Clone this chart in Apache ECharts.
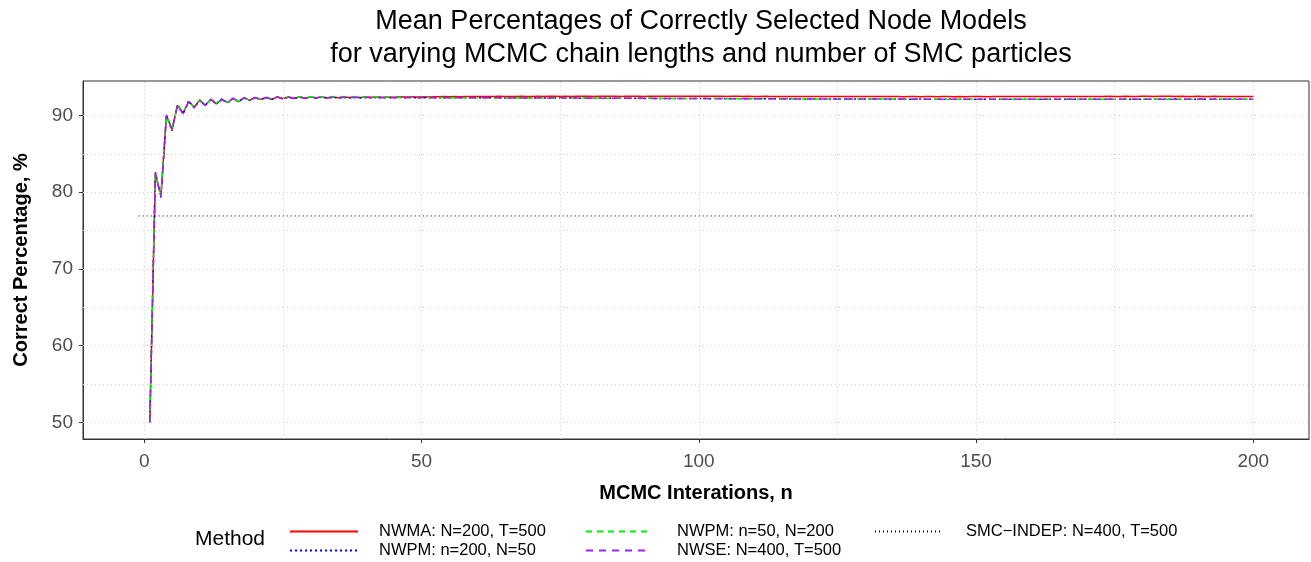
<!DOCTYPE html>
<html>
<head>
<meta charset="utf-8">
<script src="https://cdn.jsdelivr.net/npm/echarts@6/dist/echarts.min.js"></script>
<style>
html,body{margin:0;padding:0;background:#fff;}
#chart{width:1311px;height:562px;}
</style>
</head>
<body>
<div id="chart"></div>
<script>
// ---- data ----
const titleText = 'Mean Percentages of Correctly Selected Node Models\nfor varying MCMC chain lengths and number of SMC particles';
const seriesNames = ['NWMA: N=200, T=500', 'NWPM: n=200, N=50', 'NWPM: n=50, N=200', 'NWSE: N=400, T=500', 'SMC\u2212INDEP: N=400, T=500'];
const xTicks = [0, 50, 100, 150, 200];
const yTicks = [50, 60, 70, 80, 90];
const xGrid = [0, 25, 50, 75, 100, 125, 150, 175, 200];
const yGrid = [50, 55, 60, 65, 70, 75, 80, 85, 90];

const nwma = [
50.0, 82.4, 79.5, 90.0, 88.2, 91.3, 90.3, 91.8, 91.1, 92.0,
91.3, 92.1, 91.5, 92.1, 91.7, 92.2, 91.8, 92.3, 92.0, 92.3,
92.1, 92.35, 92.1, 92.4, 92.2, 92.4, 92.25, 92.4, 92.25, 92.4,
92.3, 92.4, 92.3, 92.42, 92.32, 92.4, 92.34, 92.42, 92.35, 92.4,
92.36, 92.42, 92.38, 92.42, 92.38, 92.43, 92.4, 92.43, 92.4, 92.44,
92.42, 92.45, 92.43, 92.46, 92.44, 92.47, 92.45, 92.47, 92.46, 92.48,
92.47, 92.48, 92.47, 92.49, 92.48, 92.48, 92.47, 92.49, 92.48, 92.48,
92.49, 92.48, 92.5, 92.49, 92.48, 92.49, 92.48, 92.5, 92.49, 92.49,
92.48, 92.5, 92.49, 92.49, 92.5, 92.48, 92.49, 92.5, 92.49, 92.48,
92.49, 92.5, 92.49, 92.5, 92.51, 92.5, 92.49, 92.5, 92.5, 92.49,
92.5, 92.49, 92.5, 92.49, 92.48, 92.49, 92.49, 92.48, 92.49, 92.48,
92.48, 92.49, 92.48, 92.47, 92.48, 92.48, 92.47, 92.48, 92.47, 92.47,
92.48, 92.47, 92.47, 92.46, 92.47, 92.47, 92.46, 92.47, 92.47, 92.46,
92.47, 92.46, 92.46, 92.47, 92.46, 92.46, 92.45, 92.46, 92.46, 92.45,
92.46, 92.46, 92.45, 92.46, 92.46, 92.45, 92.46, 92.45, 92.46, 92.46,
92.46, 92.45, 92.46, 92.46, 92.47, 92.46, 92.46, 92.47, 92.46, 92.47,
92.47, 92.46, 92.47, 92.48, 92.47, 92.47, 92.48, 92.47, 92.48, 92.48,
92.47, 92.48, 92.48, 92.49, 92.48, 92.48, 92.49, 92.48, 92.48, 92.49,
92.49, 92.48, 92.49, 92.5, 92.49, 92.48, 92.49, 92.48, 92.48, 92.49,
92.48, 92.48, 92.49, 92.48, 92.48, 92.47, 92.48, 92.48, 92.47, 92.48
];
const nwpm200 = [
50.0, 82.6, 79.3, 90.1, 88.0, 91.4, 90.2, 91.9, 91.0, 92.0,
91.3, 92.1, 91.5, 92.2, 91.6, 92.25, 91.8, 92.3, 91.95, 92.35,
92.05, 92.35, 92.1, 92.4, 92.15, 92.38, 92.2, 92.4, 92.22, 92.38,
92.25, 92.38, 92.26, 92.37, 92.27, 92.36, 92.28, 92.36, 92.28, 92.35,
92.29, 92.35, 92.29, 92.34, 92.3, 92.34, 92.3, 92.33, 92.3, 92.33,
92.31, 92.32, 92.3, 92.32, 92.31, 92.31, 92.3, 92.31, 92.3, 92.3,
92.3, 92.29, 92.3, 92.29, 92.29, 92.28, 92.29, 92.28, 92.28, 92.27,
92.28, 92.27, 92.27, 92.26, 92.27, 92.26, 92.26, 92.25, 92.26, 92.25,
92.25, 92.24, 92.25, 92.24, 92.24, 92.23, 92.24, 92.23, 92.23, 92.22,
92.23, 92.22, 92.22, 92.21, 92.22, 92.21, 92.21, 92.2, 92.21, 92.2,
92.2, 92.19, 92.2, 92.19, 92.19, 92.18, 92.19, 92.18, 92.18, 92.17,
92.18, 92.17, 92.17, 92.16, 92.17, 92.16, 92.16, 92.16, 92.15, 92.16,
92.15, 92.15, 92.14, 92.15, 92.14, 92.14, 92.15, 92.14, 92.13, 92.14,
92.14, 92.13, 92.14, 92.13, 92.13, 92.14, 92.13, 92.12, 92.13, 92.13,
92.12, 92.13, 92.12, 92.12, 92.13, 92.12, 92.12, 92.11, 92.12, 92.12,
92.11, 92.12, 92.12, 92.11, 92.12, 92.11, 92.11, 92.12, 92.11, 92.11,
92.12, 92.11, 92.11, 92.12, 92.11, 92.12, 92.12, 92.11, 92.12, 92.12,
92.11, 92.12, 92.12, 92.13, 92.12, 92.12, 92.13, 92.12, 92.12, 92.13,
92.12, 92.13, 92.13, 92.12, 92.13, 92.13, 92.12, 92.13, 92.12, 92.13,
92.13, 92.12, 92.13, 92.12, 92.12, 92.13, 92.12, 92.12, 92.13, 92.12
];
const nwpm50 = [
50.0, 82.3, 79.6, 89.9, 88.3, 91.2, 90.4, 91.7, 91.1, 91.9,
91.4, 92.0, 91.6, 92.1, 91.7, 92.2, 91.85, 92.25, 92.0, 92.3,
92.1, 92.35, 92.15, 92.4, 92.2, 92.42, 92.25, 92.43, 92.3, 92.44,
92.32, 92.45, 92.34, 92.46, 92.36, 92.46, 92.38, 92.46, 92.38, 92.45,
92.38, 92.44, 92.37, 92.42, 92.36, 92.4, 92.35, 92.38, 92.34, 92.36,
92.33, 92.34, 92.32, 92.33, 92.31, 92.32, 92.3, 92.31, 92.3, 92.3,
92.31, 92.3, 92.3, 92.31, 92.3, 92.29, 92.3, 92.29, 92.29, 92.28,
92.28, 92.28, 92.27, 92.28, 92.27, 92.27, 92.26, 92.27, 92.26, 92.26,
92.25, 92.26, 92.25, 92.25, 92.24, 92.25, 92.24, 92.24, 92.23, 92.24,
92.23, 92.23, 92.22, 92.23, 92.22, 92.22, 92.21, 92.22, 92.21, 92.21,
92.2, 92.21, 92.2, 92.2, 92.19, 92.2, 92.19, 92.19, 92.18, 92.19,
92.18, 92.18, 92.17, 92.18, 92.17, 92.17, 92.16, 92.17, 92.16, 92.16,
92.16, 92.15, 92.16, 92.15, 92.15, 92.14, 92.15, 92.14, 92.14, 92.14,
92.13, 92.14, 92.13, 92.13, 92.13, 92.12, 92.13, 92.12, 92.13, 92.12,
92.12, 92.13, 92.12, 92.12, 92.11, 92.12, 92.12, 92.11, 92.12, 92.11,
92.11, 92.12, 92.11, 92.11, 92.12, 92.11, 92.11, 92.11, 92.12, 92.11,
92.11, 92.12, 92.11, 92.11, 92.12, 92.11, 92.12, 92.11, 92.11, 92.12,
92.12, 92.11, 92.12, 92.12, 92.11, 92.12, 92.12, 92.13, 92.12, 92.12,
92.12, 92.13, 92.12, 92.12, 92.13, 92.12, 92.12, 92.13, 92.12, 92.12,
92.13, 92.12, 92.12, 92.13, 92.12, 92.12, 92.12, 92.13, 92.12, 92.12
];
const nwse = [
50.0, 82.5, 79.4, 90.1, 88.1, 91.4, 90.2, 91.8, 91.0, 92.0,
91.3, 92.1, 91.5, 92.1, 91.6, 92.25, 91.8, 92.3, 91.95, 92.35,
92.05, 92.35, 92.1, 92.4, 92.15, 92.4, 92.2, 92.4, 92.25, 92.4,
92.27, 92.4, 92.28, 92.38, 92.28, 92.37, 92.29, 92.36, 92.3, 92.36,
92.3, 92.35, 92.3, 92.34, 92.3, 92.34, 92.31, 92.33, 92.31, 92.33,
92.31, 92.32, 92.31, 92.32, 92.31, 92.31, 92.3, 92.31, 92.3, 92.3,
92.3, 92.3, 92.29, 92.3, 92.29, 92.29, 92.28, 92.29, 92.28, 92.28,
92.27, 92.28, 92.27, 92.27, 92.26, 92.27, 92.26, 92.26, 92.25, 92.26,
92.25, 92.25, 92.24, 92.25, 92.24, 92.24, 92.23, 92.24, 92.23, 92.23,
92.22, 92.23, 92.22, 92.22, 92.21, 92.22, 92.21, 92.21, 92.2, 92.21,
92.2, 92.2, 92.19, 92.2, 92.19, 92.19, 92.18, 92.19, 92.18, 92.18,
92.17, 92.18, 92.17, 92.17, 92.16, 92.17, 92.16, 92.16, 92.15, 92.16,
92.15, 92.15, 92.15, 92.14, 92.15, 92.14, 92.14, 92.14, 92.13, 92.14,
92.13, 92.14, 92.13, 92.13, 92.12, 92.13, 92.13, 92.12, 92.13, 92.12,
92.12, 92.12, 92.11, 92.12, 92.12, 92.11, 92.12, 92.11, 92.11, 92.12,
92.11, 92.11, 92.12, 92.11, 92.11, 92.1, 92.11, 92.11, 92.1, 92.11,
92.11, 92.1, 92.11, 92.11, 92.1, 92.11, 92.11, 92.1, 92.11, 92.11,
92.11, 92.1, 92.11, 92.11, 92.12, 92.11, 92.11, 92.12, 92.11, 92.11,
92.12, 92.11, 92.12, 92.11, 92.11, 92.12, 92.11, 92.12, 92.12, 92.11,
92.12, 92.11, 92.12, 92.11, 92.11, 92.12, 92.11, 92.11, 92.12, 92.11
];
const smcX = [-1, 200];
const smcY = [76.9, 76.9];

// iteration index 1..200
const iterations = nwma.map((_, i) => i + 1);

// ---- chart ----
const FONT = '"Liberation Sans", Arial, Helvetica, sans-serif';
const pairs = (xs, ys) => xs.map((x, i) => [x, ys[i]]);
const chart = echarts.init(document.getElementById('chart'), null, {renderer: 'canvas'});

const gridLineStyle = {color: '#cfcfcf', width: 1, type: [1, 3]};
const mk = (name, color, type, data, width) => ({
  name: name, type: 'line', data: data, symbol: 'none', showSymbol: false,
  lineStyle: {color: color, width: width || 1.5, type: type},
  itemStyle: {color: color}, emphasis: {disabled: true}, silent: true, z: 3
});
const legendCommon = {
  orient: 'vertical', top: 523, padding: 0, itemHeight: 14, itemGap: 2, selectedMode: false,
  itemStyle: {color: 'rgba(0,0,0,0)', borderWidth: 0, opacity: 0}
};
const legendText = (pad) => ({fontFamily: FONT, fontSize: 16.5, color: '#000', lineHeight: 16, padding: [0, 0, 0, pad]});

const option = {
  animation: false,
  backgroundColor: '#ffffff',
  title: {
    text: titleText,
    left: 696, top: 0, textAlign: 'center',
    textStyle: {fontFamily: FONT, fontSize: 27, fontWeight: 'normal', color: '#000', lineHeight: 33}
  },
  grid: {left: 83, top: 81, width: 1226, height: 358, show: true, borderColor: '#333', borderWidth: 1, backgroundColor: 'transparent'},
  xAxis: {
    type: 'value', min: -11.05, max: 210.05,
    name: 'MCMC Interations, n', nameLocation: 'middle', nameGap: 44,
    nameTextStyle: {fontFamily: FONT, fontSize: 20, fontWeight: 'bold', color: '#000'},
    axisLine: {show: true, onZero: false, lineStyle: {color: '#333', width: 1}},
    axisTick: {show: true, length: 4, customValues: xTicks, lineStyle: {color: '#333'}},
    axisLabel: {customValues: xTicks, fontFamily: FONT, fontSize: 19, color: '#4d4d4d', margin: 13},
    splitLine: {show: false}
  },
  yAxis: {
    type: 'value', min: 47.83, max: 94.49,
    name: 'Correct Percentage, %', nameLocation: 'middle', nameGap: 52,
    nameTextStyle: {fontFamily: FONT, fontSize: 20, fontWeight: 'bold', color: '#000'},
    axisLine: {show: true, onZero: false, lineStyle: {color: '#333', width: 1}},
    axisTick: {show: true, length: 4, customValues: yTicks, lineStyle: {color: '#333'}},
    axisLabel: {customValues: yTicks, fontFamily: FONT, fontSize: 19, color: '#4d4d4d', margin: 10},
    splitLine: {show: false}
  },
  legend: [
    Object.assign({}, legendCommon, {data: [seriesNames[0], seriesNames[1]], left: 289, itemWidth: 68, textStyle: legendText(16)}),
    Object.assign({}, legendCommon, {data: [seriesNames[2], seriesNames[3]], left: 585, itemWidth: 62, textStyle: legendText(24)}),
    Object.assign({}, legendCommon, {data: [seriesNames[4]], left: 874, itemWidth: 68, textStyle: legendText(18)})
  ],
  graphic: [
    {type: 'text', left: 195, top: 529, silent: true,
     style: {text: 'Method', font: '21px ' + FONT, fill: '#000'}}
  ],
  series: [
    {
      name: 'gridlines', type: 'line', data: [], silent: true, z: 1,
      markLine: {
        silent: true, symbol: 'none', animation: false,
        label: {show: false}, lineStyle: gridLineStyle, emphasis: {disabled: true},
        data: xGrid.map(v => ({xAxis: v})).concat(yGrid.map(v => ({yAxis: v})))
      }
    },
    mk(seriesNames[0], '#ff0000', 'solid', pairs(iterations, nwma)),
    mk(seriesNames[1], '#0000ff', [2, 3], pairs(iterations, nwpm200)),
    mk(seriesNames[2], '#00ee00', [6, 5], pairs(iterations, nwpm50)),
    mk(seriesNames[3], '#a020f0', [7, 6], pairs(iterations, nwse)),
    mk(seriesNames[4], '#000000', [1, 3], pairs(smcX, smcY), 1)
  ]
};
chart.setOption(option);
</script>
</body>
</html>
